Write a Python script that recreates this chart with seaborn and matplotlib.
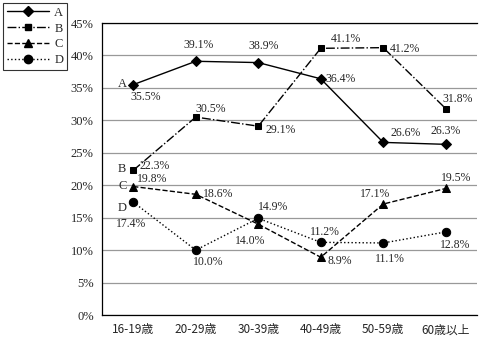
import matplotlib
matplotlib.use("Agg")
import matplotlib.pyplot as plt
import seaborn as sns
import pandas as pd
from matplotlib.lines import Line2D

categories = ["16-19歳", "20-29歳", "30-39歳", "40-49歳", "50-59歳", "60歳以上"]
series_A = [35.5, 39.1, 38.9, 36.4, 26.6, 26.3]
series_B = [22.3, 30.5, 29.1, 41.1, 41.2, 31.8]
series_C = [19.8, 18.6, 14.0, 8.9, 17.1, 19.5]
series_D = [17.4, 10.0, 14.9, 11.2, 11.1, 12.8]
series_names = ["A", "B", "C", "D"]
yticks = [0, 5, 10, 15, 20, 25, 30, 35, 40, 45]

sns.set_theme(style="white")
plt.rcParams['font.family'] = ['Liberation Serif', 'Noto Sans CJK JP', 'DejaVu Sans']

rows = []
for name, vals in zip(series_names, [series_A, series_B, series_C, series_D]):
    for i, v in enumerate(vals):
        rows.append({"series": name, "x": i, "value": v})
df = pd.DataFrame(rows)

fig = plt.figure(figsize=(4.79, 3.45), dpi=100)
ax = fig.add_axes([102/479, 30/345, 375/479, 292/345])

markers = {"A": "D", "B": "s", "C": "^", "D": "o"}
styles = {"A": "-", "B": "-.", "C": "--", "D": ":"}
msize = {"A": 5, "B": 5, "C": 6, "D": 6}

for name in series_names:
    sub = df[df["series"] == name]
    sns.lineplot(data=sub, x="x", y="value", ax=ax, color="black",
                 linestyle=styles[name], marker=markers[name],
                 markersize=msize[name], linewidth=1, legend=False,
                 markeredgecolor="black")

for y in yticks:
    ax.axhline(y, color="#999999", linewidth=0.9, zorder=0)

ax.set_xlim(-0.5, 5.5)
ax.set_ylim(0, 45)
ax.set_yticks(yticks)
ax.set_yticklabels([f"{v}%" for v in yticks], fontsize=9)
ax.set_xticks(range(6))
ax.set_xticklabels(categories, fontsize=8.5, family=['Noto Sans CJK JP'])
ax.tick_params(axis="both", length=0, pad=6)
ax.set_xlabel("")
ax.set_ylabel("")
for s in ["left", "top", "bottom"]:
    ax.spines[s].set_visible(True)
    ax.spines[s].set_color("black")
    ax.spines[s].set_linewidth(0.9)
ax.spines["right"].set_visible(False)

# value label offsets in pixels (dx, dy with up positive)
offsets = {
    "A": [(12, -12), (3, 16), (5, 17), (20, 0), (22, 9), (0, 13)],
    "B": [(21, 4), (15, 8), (22, -4), (25, 9), (22, -1), (12, 10)],
    "C": [(19, 8), (22, 0), (-8, -17), (19, -4), (-8, 10), (10, 10)],
    "D": [(-2, -22), (12, -12), (15, 11), (4, 10), (7, -16), (9, -13)],
}
data = {"A": series_A, "B": series_B, "C": series_C, "D": series_D}
for name in series_names:
    for i, v in enumerate(data[name]):
        dx, dy = offsets[name][i]
        ax.annotate(f"{v:.1f}%", (i, v), xytext=(dx * 0.72, dy * 0.72),
                    textcoords="offset points", ha="center", va="center",
                    fontsize=8.5)
    ax.annotate(name, (0, data[name][0]),
                xytext=(-11 * 0.72, (1 if name != "D" else -6) * 0.72),
                textcoords="offset points", ha="center", va="center", fontsize=9)

handles = [Line2D([0], [0], color="black", linestyle=styles[n], marker=markers[n],
                  markersize=msize[n], linewidth=1) for n in series_names]
leg = fig.legend(handles, series_names, loc="upper left",
                 bbox_to_anchor=(3/479, 1 - 3/345), frameon=True, fontsize=9,
                 handlelength=3.4, borderpad=0.3, labelspacing=0.3,
                 handletextpad=0.4, fancybox=False, borderaxespad=0)
leg.get_frame().set_edgecolor("black")
leg.get_frame().set_linewidth(0.8)

fig.savefig("out.png", dpi=100)
